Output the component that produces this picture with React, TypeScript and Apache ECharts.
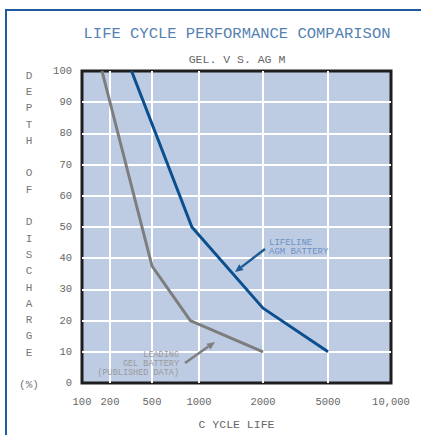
import React, { useEffect, useRef } from "react";
import * as echarts from "echarts";

// Axis definition (cycle-life ticks and their relative placement on the printed chart)
const cycleTicks = [100, 200, 500, 1000, 2000, 5000, 10000];
const cycleTickLabels = ["100", "200", "500", "1000", "2000", "5000", "10,000"];
const cycleTickPos = [0, 28, 70, 117, 181, 246, 309];
const depthTicks = [0, 10, 20, 30, 40, 50, 60, 70, 80, 90, 100];

// Series
const agmCycles = [320, 900, 2000, 5000];
const agmDepth = [100, 50, 24, 10];
const gelCycles = [164, 500, 880, 2000];
const gelDepth = [100, 37.5, 20, 10];

const titleText = "LIFE CYCLE PERFORMANCE COMPARISON";
const subtitleText = "GEL. V S. AG M";
const yNameText = "D\nE\nP\nT\nH\n\nO\nF\n\nD\nI\nS\nC\nH\nA\nR\nG\nE\n\n(%)";
const xNameText = "C YCLE LIFE";
const agmNote = "LIFELINE\nAGM BATTERY";
const gelNote = "LEADING\nGEL BATTERY\n(PUBLISHED DATA)";

// map a cycle count onto the chart's piecewise-logarithmic x scale
function cyclePos(v: number): number {
  for (let i = 0; i < cycleTicks.length - 1; i++) {
    const a = cycleTicks[i], b = cycleTicks[i + 1];
    if (v <= b || i === cycleTicks.length - 2) {
      const f = Math.log(v / a) / Math.log(b / a);
      return cycleTickPos[i] + (cycleTickPos[i + 1] - cycleTickPos[i]) * f;
    }
  }
  return 0;
}

function arrow(x1: number, y1: number, x2: number, y2: number, color: string) {
  const dx = x2 - x1, dy = y2 - y1;
  const L = Math.sqrt(dx * dx + dy * dy);
  const ux = dx / L, uy = dy / L;
  const hl = 8, hw = 3.5;
  const bx = x2 - ux * hl, by = y2 - uy * hl;
  const px = -uy, py = ux;
  return [
    {
      type: "line",
      shape: { x1, y1, x2: bx, y2: by },
      style: { stroke: color, lineWidth: 2.5 },
      z: 10,
    },
    {
      type: "polygon",
      shape: {
        points: [
          [x2, y2],
          [bx + px * hw, by + py * hw],
          [bx - px * hw, by - py * hw],
        ],
      },
      style: { fill: color },
      z: 10,
    },
  ];
}

export default function App() {
  const ref = useRef<HTMLDivElement>(null);
  useEffect(() => {
    if (!ref.current) return;
    const chart = echarts.init(ref.current, undefined, { renderer: "svg" });
    const mono = "Liberation Mono";
    chart.setOption({
      animation: false,
      backgroundColor: "#ffffff",
      grid: {
        left: 82,
        right: 30,
        top: 71,
        bottom: 47,
        show: true,
        backgroundColor: "#bdcbe3",
        borderColor: "#1e1e1e",
        borderWidth: 3,
      },
      xAxis: {
        type: "value",
        min: cycleTickPos[0],
        max: cycleTickPos[cycleTickPos.length - 1],
        name: xNameText,
        nameLocation: "middle",
        nameGap: 35,
        nameTextStyle: { fontFamily: mono, fontSize: 11.5, color: "#666666" },
        axisLine: { show: false },
        axisTick: { show: false, customValues: cycleTickPos.slice(1, -1) },
        axisLabel: {
          customValues: cycleTickPos,
          margin: 13,
          fontFamily: mono,
          fontSize: 10.5,
          color: "#666666",
          formatter: (v: number) => {
            const i = cycleTickPos.indexOf(v);
            return i >= 0 ? cycleTickLabels[i] : "";
          },
        },
        splitLine: { show: true, lineStyle: { color: "#ffffff", width: 2 } },
      },
      yAxis: {
        type: "value",
        min: 0,
        max: 100,
        interval: 10,
        axisLine: { show: false },
        axisTick: { show: false, customValues: depthTicks.slice(1, -1) },
        axisLabel: {
          customValues: depthTicks,
          margin: 10,
          fontFamily: mono,
          fontSize: 10.5,
          color: "#666666",
        },
        splitLine: { show: true, lineStyle: { color: "#ffffff", width: 2 } },
      },
      series: [
        {
          type: "line",
          name: "Gel",
          data: gelCycles.map((c, i) => [cyclePos(c), gelDepth[i]]),
          symbol: "none",
          lineStyle: { color: "#7d7d7d", width: 3 },
          z: 3,
        },
        {
          type: "line",
          name: "AGM",
          data: agmCycles.map((c, i) => [cyclePos(c), agmDepth[i]]),
          symbol: "none",
          lineStyle: { color: "#0c4f8e", width: 3 },
          z: 4,
        },
      ],
      graphic: [
        {
          type: "rect",
          shape: { x: 6, y: 10, width: 440, height: 450 },
          style: { fill: "none", stroke: "#1d5c9c", lineWidth: 2 },
          silent: true,
          z: 0,
        },
        {
          type: "text",
          x: 237,
          y: 34,
          style: {
            text: titleText,
            textAlign: "center",
            textVerticalAlign: "middle",
            fontFamily: mono,
            fontSize: 15.5,
            fill: "#5582b2",
          },
        },
        {
          type: "text",
          x: 237,
          y: 59,
          style: {
            text: subtitleText,
            textAlign: "center",
            textVerticalAlign: "middle",
            fontFamily: mono,
            fontSize: 11.5,
            fill: "#666666",
          },
        },
        {
          type: "text",
          x: 29,
          y: 230.5,
          style: {
            text: yNameText,
            textAlign: "center",
            textVerticalAlign: "middle",
            fontFamily: mono,
            fontSize: 11,
            lineHeight: 16.3,
            fill: "#777777",
          },
        },
        {
          type: "text",
          x: 269,
          y: 247.5,
          style: {
            text: agmNote,
            textAlign: "left",
            textVerticalAlign: "middle",
            fontFamily: mono,
            fontSize: 9,
            lineHeight: 9.5,
            fill: "#6b92c4",
          },
          z: 10,
        },
        {
          type: "text",
          x: 179,
          y: 364,
          style: {
            text: gelNote,
            textAlign: "right",
            textVerticalAlign: "middle",
            fontFamily: mono,
            fontSize: 8.5,
            lineHeight: 9,
            fill: "#9a9a9a",
          },
          z: 10,
        },
        ...arrow(265, 249, 235, 272, "#1d5a98"),
        ...arrow(185, 363, 215, 342, "#7f7f7f"),
      ],
    });
    return () => chart.dispose();
  }, []);
  return (
    <div
      ref={ref}
      style={{ position: "fixed", left: 0, top: 0, width: 421, height: 435 }}
    />
  );
}
